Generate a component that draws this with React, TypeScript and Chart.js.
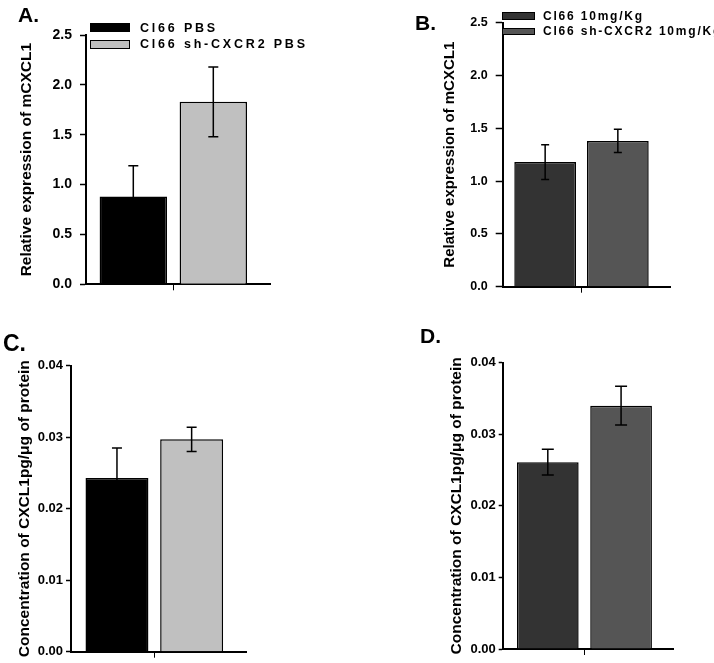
import React, { useEffect, useRef } from "react";
import { Chart, registerables } from "chart.js";

Chart.register(...registerables);

// ---------- data ----------
const CATEGORY = [""];

const A_LABELS = ["Cl66 PBS", "Cl66 sh-CXCR2 PBS"];
const A_MEANS = [0.88, 1.83];
const A_ERRORS = [0.31, 0.35];
const A_Y_TICKS = [0, 0.5, 1.0, 1.5, 2.0, 2.5];

const B_LABELS = ["Cl66 10mg/Kg", "Cl66 sh-CXCR2 10mg/Kg"];
const B_MEANS = [1.18, 1.38];
const B_ERRORS = [0.165, 0.11];
const B_Y_TICKS = [0, 0.5, 1.0, 1.5, 2.0, 2.5];

const C_LABELS = ["Cl66 PBS", "Cl66 sh-CXCR2 PBS"];
const C_MEANS = [0.0243, 0.0297];
const C_ERRORS = [0.0042, 0.0017];
const C_Y_TICKS = [0, 0.01, 0.02, 0.03, 0.04];

const D_LABELS = ["Cl66 10mg/Kg", "Cl66 sh-CXCR2 10mg/Kg"];
const D_MEANS = [0.0261, 0.034];
const D_ERRORS = [0.0018, 0.0027];
const D_Y_TICKS = [0, 0.01, 0.02, 0.03, 0.04];

const Y_TITLE_AB = "Relative expression of mCXCL1";
const Y_TITLE_CD = "Concentration of CXCL1pg/\u03bcg of protein";

const FONT = "'Liberation Sans', Arial, Helvetica, sans-serif";

// ---------- error bar plugin ----------
const errorBarPlugin = {
  id: "errorBars",
  afterDatasetsDraw(chart: any, _args: any, opts: any) {
    const ctx = chart.ctx;
    const yScale = chart.scales.y;
    const cap = (opts && opts.capWidth) || 10;
    ctx.save();
    ctx.strokeStyle = "#000";
    ctx.lineWidth = (opts && opts.lineWidth) || 1.5;
    chart.data.datasets.forEach((ds: any, i: number) => {
      const meta = chart.getDatasetMeta(i);
      meta.data.forEach((bar: any, j: number) => {
        const v = ds.data[j];
        const e = ds.errors ? ds.errors[j] : 0;
        if (!e) return;
        const yTop = yScale.getPixelForValue(v + e);
        const yBot = yScale.getPixelForValue(v - e);
        const x = bar.x;
        ctx.beginPath();
        ctx.moveTo(x, yTop);
        ctx.lineTo(x, yBot);
        ctx.moveTo(x - cap / 2, yTop);
        ctx.lineTo(x + cap / 2, yTop);
        ctx.moveTo(x - cap / 2, yBot);
        ctx.lineTo(x + cap / 2, yBot);
        ctx.stroke();
      });
    });
    ctx.restore();
  },
};

type Spec = {
  left: number;
  top: number;
  w: number;
  h: number;
  labels: string[];
  means: number[];
  errors: number[];
  colors: string[];
  yTicks: number[];
  decimals: number;
  yTitle: string;
  titleSize: number;
  titlePad: number;
  tickSize: number;
  tickPad: number;
  tickLen: number;
  yWidth: number;
  xHeight: number;
  padTop: number;
  padRight: number;
  catPct: number;
  barPct: number;
  range: number;
  cap: number;
};

function buildConfig(p: Spec): any {
  const yMin = p.yTicks[0];
  const yMax = p.yTicks[p.yTicks.length - 1];
  const step = p.yTicks[1] - p.yTicks[0];
  return {
    type: "bar",
    data: {
      labels: CATEGORY,
      datasets: p.labels.map((lab, i) => ({
        label: lab,
        data: [p.means[i]],
        errors: [p.errors[i]],
        backgroundColor: p.colors[i],
        borderColor: "#000",
        borderWidth: 1.5,
        categoryPercentage: p.catPct,
        barPercentage: p.barPct,
      })),
    },
    options: {
      animation: false,
      responsive: false,
      maintainAspectRatio: false,
      devicePixelRatio: 1,
      layout: { padding: { top: p.padTop, right: p.padRight, left: 0, bottom: 0 } },
      plugins: {
        legend: { display: false },
        tooltip: { enabled: false },
        errorBars: { capWidth: p.cap, lineWidth: 1.5 },
      },
      scales: {
        x: {
          type: "category",
          offset: true,
          grid: {
            display: true,
            offset: false,
            drawOnChartArea: false,
            drawTicks: true,
            tickLength: 6,
            tickColor: "#000",
            tickWidth: 1,
          },
          border: { display: true, color: "#000", width: 2 },
          ticks: { display: false },
          afterFit: (s: any) => {
            s.height = p.xHeight;
          },
          afterBuildTicks: (s: any) => {
            s._valueRange = p.range;
          },
        },
        y: {
          min: yMin,
          max: yMax,
          ticks: {
            stepSize: step,
            color: "#000",
            padding: p.tickPad,
            font: { family: FONT, size: p.tickSize, weight: "bold" },
            callback: (v: any) => Number(v).toFixed(p.decimals),
          },
          grid: {
            drawOnChartArea: false,
            drawTicks: true,
            tickLength: p.tickLen,
            tickColor: "#000",
            tickWidth: 1.5,
          },
          border: { display: true, color: "#000", width: 2 },
          title: {
            display: true,
            text: p.yTitle,
            color: "#000",
            font: { family: FONT, size: p.titleSize, weight: "bold" },
            padding: { top: p.titlePad, bottom: 0 },
          },
          afterFit: (s: any) => {
            s.width = p.yWidth;
          },
        },
      },
    },
    plugins: [errorBarPlugin],
  };
}

const SPECS: Spec[] = [
  {
    left: 0, top: 0, w: 357, h: 310,
    labels: A_LABELS, means: A_MEANS, errors: A_ERRORS,
    colors: ["#000000", "#c0c0c0"],
    yTicks: A_Y_TICKS, decimals: 1, yTitle: Y_TITLE_AB,
    titleSize: 15.5, titlePad: 17.7, tickSize: 14, tickPad: 8, tickLen: 6,
    yWidth: 86, xHeight: 25.7, padTop: 35, padRight: 86.3,
    catPct: 0.8663, barPct: 0.8425, range: 1.0578, cap: 10,
  },
  {
    left: 357, top: 0, w: 357, h: 310,
    labels: B_LABELS, means: B_MEANS, errors: B_ERRORS,
    colors: ["#333333", "#555555"],
    yTicks: B_Y_TICKS, decimals: 1, yTitle: Y_TITLE_AB,
    titleSize: 15, titlePad: 84, tickSize: 12.5, tickPad: 8, tickLen: 7,
    yWidth: 145.7, xHeight: 23.3, padTop: 22.7, padRight: 44,
    catPct: 0.869, barPct: 0.849, range: 1.0616, cap: 8,
  },
  {
    left: 0, top: 320, w: 357, h: 343,
    labels: C_LABELS, means: C_MEANS, errors: C_ERRORS,
    colors: ["#000000", "#c0c0c0"],
    yTicks: C_Y_TICKS, decimals: 2, yTitle: Y_TITLE_CD,
    titleSize: 15.5, titlePad: 15.7, tickSize: 13, tickPad: 3, tickLen: 5,
    yWidth: 71, xHeight: 11.3, padTop: 45.7, padRight: 110.3,
    catPct: 0.85, barPct: 0.843, range: 1.0546, cap: 10,
  },
  {
    left: 357, top: 320, w: 357, h: 343,
    labels: D_LABELS, means: D_MEANS, errors: D_ERRORS,
    colors: ["#333333", "#555555"],
    yTicks: D_Y_TICKS, decimals: 2, yTitle: Y_TITLE_CD,
    titleSize: 15.5, titlePad: 90.7, tickSize: 13, tickPad: 3, tickLen: 4,
    yWidth: 145.7, xHeight: 14, padTop: 42.7, padRight: 40.3,
    catPct: 0.857, barPct: 0.842, range: 1.046, cap: 12,
  },
];

function Panel({ spec }: { spec: Spec }) {
  const ref = useRef<HTMLCanvasElement>(null);
  useEffect(() => {
    const chart = new Chart(ref.current as HTMLCanvasElement, buildConfig(spec));
    return () => chart.destroy();
  }, [spec]);
  return (
    <canvas
      ref={ref}
      width={spec.w}
      height={spec.h}
      style={{ position: "absolute", left: spec.left, top: spec.top, width: spec.w, height: spec.h }}
    />
  );
}

const labelStyle = (left: number, top: number, size: number): React.CSSProperties => ({
  position: "absolute",
  left,
  top,
  font: `bold ${size}px ${FONT}`,
  lineHeight: `${size}px`,
  color: "#000",
  whiteSpace: "nowrap",
});

function LegendItem(props: {
  left: number; boxTop: number; boxW: number; boxH: number; color: string;
  textLeft: number; textTop: number; size: number; spacing: number; text: string;
}) {
  return (
    <>
      <div
        style={{
          position: "absolute",
          left: props.left,
          top: props.boxTop,
          width: props.boxW,
          height: props.boxH,
          background: props.color,
          border: "1.5px solid #000",
          boxSizing: "border-box",
        }}
      />
      <div style={{ ...labelStyle(props.textLeft, props.textTop, props.size), letterSpacing: `${props.spacing}px` }}>
        {props.text}
      </div>
    </>
  );
}

export default function App() {
  return (
    <div
      style={{
        position: "absolute",
        left: 0,
        top: 0,
        width: 714,
        height: 663,
        overflow: "hidden",
        background: "#fff",
      }}
    >
      {SPECS.map((s, i) => (
        <Panel key={i} spec={s} />
      ))}
      <div style={labelStyle(18, 3.9, 21)}>A.</div>
      <div style={labelStyle(415, 12.2, 21)}>B.</div>
      <div style={labelStyle(3, 332.2, 23)}>C.</div>
      <div style={labelStyle(420, 324.5, 21)}>D.</div>

      <LegendItem left={90} boxTop={23} boxW={40} boxH={9} color="#000000"
        textLeft={140} textTop={21.5} size={12.5} spacing={2.8} text={A_LABELS[0]} />
      <LegendItem left={90} boxTop={39.5} boxW={40} boxH={9} color="#c0c0c0"
        textLeft={140} textTop={37.8} size={12.5} spacing={2.8} text={A_LABELS[1]} />

      <LegendItem left={502} boxTop={12} boxW={33} boxH={7.5} color="#333333"
        textLeft={543} textTop={10} size={12} spacing={1.8} text={B_LABELS[0]} />
      <LegendItem left={502} boxTop={27.5} boxW={33} boxH={7.5} color="#555555"
        textLeft={543} textTop={25} size={12} spacing={1.8} text={B_LABELS[1]} />
    </div>
  );
}
